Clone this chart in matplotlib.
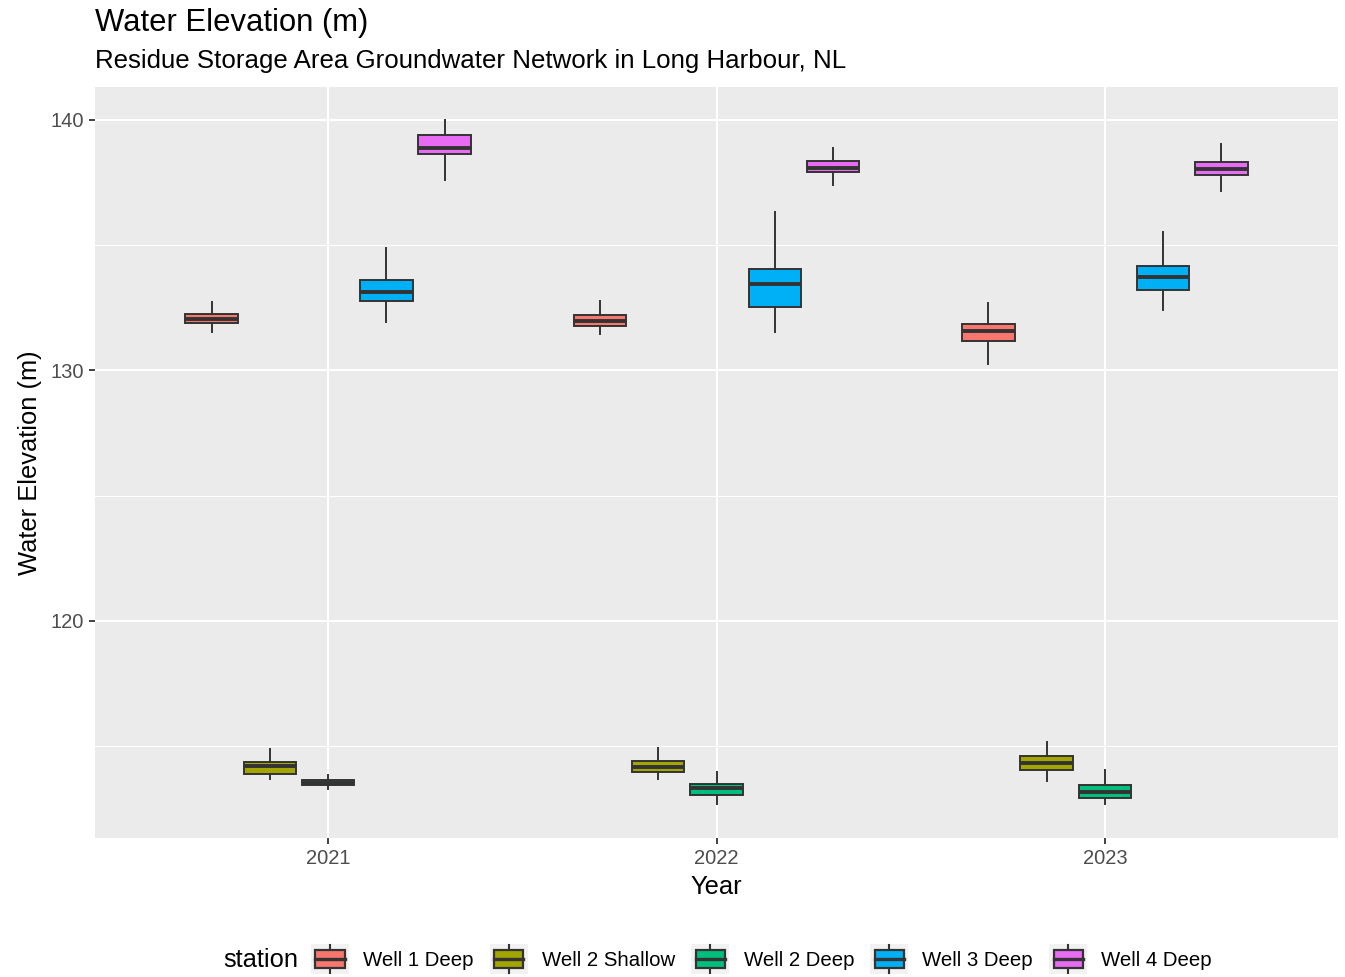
import matplotlib
matplotlib.use("Agg")
import matplotlib.pyplot as plt
from matplotlib.legend_handler import HandlerBase
from matplotlib.patches import Rectangle, Patch
from matplotlib.lines import Line2D
from matplotlib.ticker import MultipleLocator

plt.rcParams['font.family'] = ['Liberation Sans', 'DejaVu Sans']

# data (rows = stations, cols = years)
years = ['2021', '2022', '2023']
stations = ['Well 1 Deep', 'Well 2 Shallow', 'Well 2 Deep', 'Well 3 Deep', 'Well 4 Deep']
colors = ['#F8766D', '#A3A500', '#00BF7D', '#00B0F6', '#E76BF3']

whislo = [[131.55, 131.46, 130.25],
          [113.68, 113.69, 113.62],
          [113.29, 112.68, 112.69],
          [131.94, 131.54, 132.42],
          [137.58, 137.39, 137.14]]
q1 = [[131.88, 131.78, 131.18],
      [113.89, 113.96, 114.05],
      [113.45, 113.07, 112.95],
      [132.76, 132.55, 133.21],
      [138.64, 137.91, 137.80]]
med = [[132.07, 131.99, 131.56],
       [114.22, 114.18, 114.32],
       [113.55, 113.32, 113.19],
       [133.11, 133.43, 133.73],
       [138.89, 138.06, 138.03]]
q3 = [[132.24, 132.20, 131.87],
      [114.36, 114.41, 114.62],
      [113.66, 113.48, 113.44],
      [133.61, 134.06, 134.18],
      [139.41, 138.34, 138.32]]
whishi = [[132.72, 132.77, 132.68],
          [114.88, 114.92, 115.18],
          [113.84, 113.96, 114.05],
          [134.88, 136.33, 135.54],
          [140.00, 138.89, 139.04]]

EDGE = '#333333'
W, H = 1345, 977


class BoxKey(HandlerBase):
    # ggplot-like legend key: grey square with a tiny boxplot
    def create_artists(self, legend, orig_handle, xdescent, ydescent,
                       width, height, fontsize, trans):
        x0, y0 = -xdescent, -ydescent
        bg = Rectangle((x0, y0), width, height, facecolor='#F2F2F2',
                       edgecolor='none', transform=trans)
        bw, bh = width * 0.78, height * 0.64
        bx, by = x0 + (width - bw) / 2, y0 + (height - bh) / 2
        cx, cy = x0 + width / 2, y0 + height / 2
        wlo = Line2D([cx, cx], [y0 + height * 0.04, by], color=EDGE, lw=1.5, transform=trans)
        whi = Line2D([cx, cx], [by + bh, y0 + height * 0.96], color=EDGE, lw=1.5, transform=trans)
        box = Rectangle((bx, by), bw, bh, facecolor=orig_handle.get_facecolor(),
                        edgecolor=EDGE, lw=1.6, transform=trans)
        mid = Line2D([bx, bx + bw], [cy, cy], color=EDGE, lw=2.4, transform=trans)
        return [bg, wlo, whi, box, mid]


fig = plt.figure(figsize=(W / 100, H / 100), dpi=100)
ax = fig.add_axes([95 / W, 1 - 838 / H, (1338 - 95) / W, (838 - 87) / H])
ax.set_facecolor('#EBEBEB')

offsets = [-0.3, -0.15, 0.0, 0.15, 0.3]
for s in range(len(stations)):
    stats = []
    for j in range(len(years)):
        stats.append({'whislo': whislo[s][j], 'q1': q1[s][j], 'med': med[s][j],
                      'q3': q3[s][j], 'whishi': whishi[s][j], 'fliers': []})
    pos = [j + 1 + offsets[s] for j in range(len(years))]
    ax.bxp(stats, positions=pos, widths=0.135, patch_artist=True, showcaps=False,
           showfliers=False, manage_ticks=False,
           boxprops=dict(facecolor=colors[s], edgecolor=EDGE, linewidth=1.4),
           medianprops=dict(color=EDGE, linewidth=2.8, solid_capstyle='butt'),
           whiskerprops=dict(color=EDGE, linewidth=1.4), zorder=3)

ax.set_xlim(0.4, 3.6)
ax.set_ylim(111.34, 141.31)
ax.set_xticks([1, 2, 3])
ax.set_xticklabels(years)
ax.set_yticks([120, 130, 140])
ax.yaxis.set_minor_locator(MultipleLocator(5))

ax.grid(which='major', color='white', linewidth=1.5, zorder=0)
ax.grid(which='minor', axis='y', color='white', linewidth=0.75, zorder=0)
ax.set_axisbelow(True)
for sp in ax.spines.values():
    sp.set_visible(False)
ax.tick_params(which='major', length=4.6, width=1.3, color=EDGE,
               labelsize=14.5, labelcolor='#4D4D4D', pad=3.5)
ax.tick_params(which='minor', length=0)

fig.text(95 / W, 1 - 30.7 / H, 'Water Elevation (m)', fontsize=22.3, va='baseline', ha='left')
fig.text(95 / W, 1 - 67.7 / H, 'Residue Storage Area Groundwater Network in Long Harbour, NL',
         fontsize=18.6, va='baseline', ha='left')
fig.text(716.5 / W, 1 - 887 / H, 'Year', fontsize=18.4, ha='center', va='center')
fig.text(30 / W, 1 - 462.5 / H, 'Water Elevation (m)', fontsize=18.4, rotation=90,
         ha='center', va='center')

# legend along the bottom, title on the left like ggplot
fig.text(223 / W, 1 - 960 / H, 'station', fontsize=18.4, ha='left', va='center')
handles = [Patch(facecolor=c) for c in colors]
fig.legend(handles, stations, loc='center', bbox_to_anchor=(761.5 / W, 1 - 959 / H),
           ncol=5, frameon=False, fontsize=14.7, handler_map={Patch: BoxKey()},
           handlelength=1.85, handleheight=1.85, handletextpad=0.7, columnspacing=0.8,
           borderpad=0, borderaxespad=0)

fig.savefig('out.png', dpi=100)
